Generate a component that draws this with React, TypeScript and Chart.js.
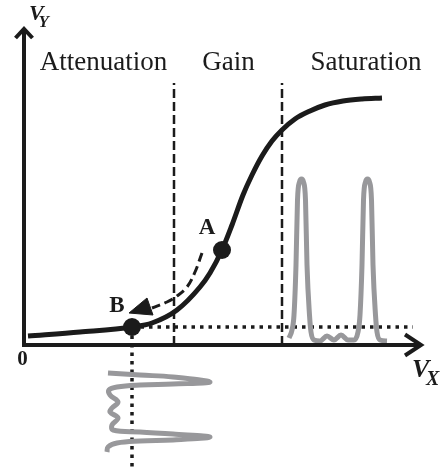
import { useEffect, useRef } from "react";
import { Chart, registerables } from "chart.js";

Chart.register(...registerables);

// ---- scale ranges (data units) ----
const X_MIN = -6;
const X_MAX = 105.75;
const Y_MIN = -31.25;
const Y_MAX = 86.25;
const AXIS_X_END = 99.5;
const AXIS_Y_END = 79.25;

// ---- transfer curve V_Y(V_X) ----
const curveX = [1, 14, 27, 32, 38.25, 44, 46.5, 49.5, 52, 54.75, 57, 59.5, 62, 64.5, 67.75, 71.5, 75.25, 79.75, 84.5, 89.5];
const curveY = [2.25, 3.25, 4.5, 5.5, 8.75, 14.5, 18, 23.75, 30, 37.5, 42.5, 47.25, 51, 53.75, 56.5, 58.5, 60, 61, 61.5, 61.75];

// ---- operating points ----
const pointNames = ["A", "B"];
const pointX = [49.5, 27];
const pointY = [23.75, 4.5];
const pointLabelX = [45.75, 23.25];
const pointLabelY = [29.25, 9.75];

// ---- region boundaries and labels ----
const boundaryX = [37.5, 64.5];
const boundaryTop = 65.5;
const regionLabels = ["Attenuation", "Gain", "Saturation"];
const regionLabelX = [19.875, 51.125, 85.5];
const regionLabelY = 68.75;

// ---- dotted guide lines (from B) ----
const guideEndX = 97.25;

// ---- dashed arrow from A to B ----
const arrowX = [44.5, 42.75, 40.75, 38.25, 35.75, 32];
const arrowY = [23, 18.25, 14.5, 12.25, 10.75, 9.25];
const arrowHeadX = [26.25, 30.75, 32.25, 26.25];
const arrowHeadY = [8, 11.75, 7.5, 8];

// ---- output signal (drawn upward, time along V_X) ----
const outT = [66.25, 67, 67.5, 68, 68.375, 68.875, 69.375, 69.875, 70.375, 70.75, 71.375, 71.75, 72.5, 74, 75.75, 77.5, 79.25, 81, 82.5, 83.5, 84, 84.5, 84.875, 85.375, 85.875, 86.375, 86.875, 87.25, 87.875, 88.25, 89, 90.75];
const outV = [1.75, 3.75, 7.5, 20, 36.25, 40.75, 41.5, 40.75, 36.25, 20, 7.5, 3.25, 1.25, 1, 2.25, 1.25, 2.5, 1.25, 1.25, 3.25, 7.5, 20, 36.25, 40.75, 41.5, 40.75, 36.25, 20, 7.5, 3.25, 1.25, 1];

// ---- input signal (drawn downward, time going down) ----
const inV = [21, 29, 37.25, 46.5, 37.25, 29, 23.25, 21.25, 21.5, 23.5, 22, 21.5, 23.5, 22, 22.25, 29, 37.25, 46.5, 37.25, 29, 23.25, 21, 20.75];
const inT = [-7, -7.5, -8, -9.25, -9.75, -10, -10.5, -11.25, -12.5, -14.25, -15.75, -16.75, -18.25, -20, -21.25, -21.75, -22.25, -23, -23.75, -24, -24.5, -25.5, -26.75];

const zip = (xs: number[], ys: number[]) => xs.map((x, i) => ({ x, y: ys[i] }));

const BLACK = "#1b1b1b";
const GREY = "#98989b";
const SERIF = "'Liberation Serif', 'Times New Roman', serif";
const FONT_SPECS = [
  `27px ${SERIF}`,
  `bold 23px ${SERIF}`,
  `bold 21px ${SERIF}`,
  `italic bold 22px ${SERIF}`,
];

const overlay = {
  id: "overlay",
  afterDatasetsDraw(chart: any) {
    const ctx = chart.ctx as CanvasRenderingContext2D;
    const xs = chart.scales.x;
    const ys = chart.scales.y;
    const px = (v: number) => xs.getPixelForValue(v);
    const py = (v: number) => ys.getPixelForValue(v);
    ctx.save();
    // axes
    ctx.strokeStyle = BLACK;
    ctx.lineWidth = 4;
    ctx.lineCap = "butt";
    ctx.lineJoin = "miter";
    ctx.beginPath();
    ctx.moveTo(px(0), py(AXIS_Y_END) + 2);
    ctx.lineTo(px(0), py(0));
    ctx.lineTo(px(AXIS_X_END) - 2, py(0));
    ctx.stroke();
    // arrowheads (open chevrons)
    ctx.beginPath();
    ctx.moveTo(px(0) - 8.5, py(AXIS_Y_END) + 10);
    ctx.lineTo(px(0), py(AXIS_Y_END) + 1);
    ctx.lineTo(px(0) + 8.5, py(AXIS_Y_END) + 10);
    ctx.stroke();
    ctx.beginPath();
    ctx.moveTo(px(AXIS_X_END) - 17, py(0) - 10.5);
    ctx.lineTo(px(AXIS_X_END) - 1, py(0));
    ctx.lineTo(px(AXIS_X_END) - 17, py(0) + 10.5);
    ctx.stroke();

    ctx.fillStyle = BLACK;
    ctx.textAlign = "center";
    ctx.textBaseline = "alphabetic";
    // region labels
    ctx.font = `27px ${SERIF}`;
    regionLabels.forEach((t, i) => ctx.fillText(t, px(regionLabelX[i]), py(regionLabelY)));
    // point labels
    ctx.textBaseline = "middle";
    ctx.font = `bold 23px ${SERIF}`;
    pointNames.forEach((t, i) => ctx.fillText(t, px(pointLabelX[i]), py(pointLabelY[i])));
    // origin
    ctx.font = `bold 21px ${SERIF}`;
    ctx.fillText("0", px(-0.375), py(-3.75));
    // axis titles
    ctx.textAlign = "left";
    ctx.textBaseline = "alphabetic";
    ctx.font = `italic bold 22px ${SERIF}`;
    ctx.fillText("V", px(1.25), py(AXIS_Y_END) - 8);
    ctx.font = `italic bold 17px ${SERIF}`;
    ctx.fillText("Y", px(3.6), py(AXIS_Y_END) - 1);
    ctx.font = `italic bold 26px ${SERIF}`;
    ctx.fillText("V", px(AXIS_X_END) - 10, py(0) + 32);
    ctx.font = `italic bold 20px ${SERIF}`;
    ctx.fillText("X", px(AXIS_X_END) + 4, py(0) + 40);
    ctx.restore();
  },
};

export default function App() {
  const ref = useRef<HTMLCanvasElement | null>(null);
  useEffect(() => {
    if (!ref.current) return;
    const bx = pointX[1];
    const by = pointY[1];
    const chart = new Chart(ref.current, {
      type: "scatter",
      data: {
        datasets: [
          {
            label: "points",
            data: zip(pointX, pointY),
            pointRadius: 9,
            pointBackgroundColor: BLACK,
            pointBorderWidth: 0,
            showLine: false,
          },
          {
            label: "curve",
            data: zip(curveX, curveY),
            showLine: true,
            borderColor: BLACK,
            borderWidth: 5,
            cubicInterpolationMode: "monotone",
            pointRadius: 0,
          },
          {
            label: "arrow",
            data: zip(arrowX, arrowY),
            showLine: true,
            borderColor: BLACK,
            borderWidth: 3,
            borderDash: [9, 5],
            tension: 0.4,
            pointRadius: 0,
          },
          {
            label: "arrowHead",
            data: zip(arrowHeadX, arrowHeadY),
            showLine: true,
            borderColor: BLACK,
            borderWidth: 1,
            backgroundColor: BLACK,
            fill: "shape",
            tension: 0,
            pointRadius: 0,
          },
          {
            label: "output",
            data: zip(outT, outV),
            showLine: true,
            borderColor: GREY,
            borderWidth: 5,
            cubicInterpolationMode: "monotone",
            pointRadius: 0,
          },
          {
            label: "input",
            data: zip(inV, inT),
            showLine: true,
            borderColor: GREY,
            borderWidth: 5,
            tension: 0.4,
            pointRadius: 0,
          },
          {
            label: "guideH",
            data: [{ x: bx, y: by }, { x: guideEndX, y: by }],
            showLine: true,
            borderColor: BLACK,
            borderWidth: 3.5,
            borderDash: [3.5, 5],
            pointRadius: 0,
          },
          {
            label: "guideV",
            data: [{ x: bx, y: by }, { x: bx, y: Y_MIN }],
            showLine: true,
            borderColor: BLACK,
            borderWidth: 3.5,
            borderDash: [3.5, 5],
            pointRadius: 0,
          },
          ...boundaryX.map((bxv, i) => ({
            label: "boundary" + i,
            data: [{ x: bxv, y: 0 }, { x: bxv, y: boundaryTop }],
            showLine: true,
            borderColor: BLACK,
            borderWidth: 2.5,
            borderDash: [9, 4],
            pointRadius: 0,
          })),
        ],
      },
      options: {
        responsive: false,
        animation: false,
        events: [],
        layout: { padding: 0, autoPadding: false },
        plugins: { legend: { display: false }, tooltip: { enabled: false }, title: { display: false } },
        scales: {
          x: { type: "linear", min: X_MIN, max: X_MAX, display: false },
          y: { type: "linear", min: Y_MIN, max: Y_MAX, display: false },
        },
      },
      plugins: [overlay],
    } as any);
    let alive = true;
    const fonts: any = (document as any).fonts;
    if (fonts && fonts.load) {
      Promise.all(FONT_SPECS.map((f) => fonts.load(f, "AVX0")))
        .then(() => {
          if (alive) chart.draw();
        })
        .catch(() => {});
    }
    return () => {
      alive = false;
      chart.destroy();
    };
  }, []);
  return (
    <div style={{ position: "fixed", left: 0, top: 0, width: 447, height: 470, background: "#fff" }}>
      <canvas ref={ref} width={447} height={470} />
    </div>
  );
}
